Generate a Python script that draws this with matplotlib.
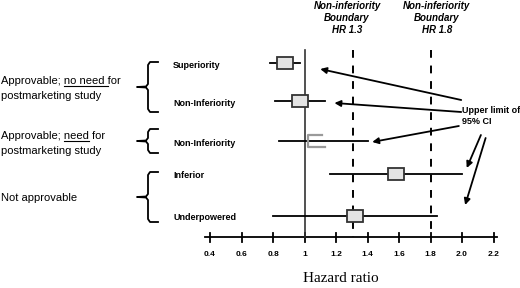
import matplotlib
matplotlib.use('Agg')
import matplotlib.pyplot as plt
from matplotlib.patches import Rectangle

# Data (hazard ratios)
row_labels = ['Superiority', 'Non-Inferiority', 'Non-Inferiority', 'Inferior', 'Underpowered']
hr_point = [0.875, 0.97, 1.07, 1.58, 1.32]
ci_low = [0.78, 0.81, 0.84, 1.16, 0.80]
ci_high = [0.97, 1.13, 1.40, 2.00, 1.84]
boundaries = [1.31, 1.80]
boundary_labels = ['Non-inferiority\nBoundary\nHR 1.3', 'Non-inferiority\nBoundary\nHR 1.8']
tick_values = [0.4, 0.6, 0.8, 1.0, 1.2, 1.4, 1.6, 1.8, 2.0, 2.2]
tick_labels = ['0.4', '0.6', '0.8', '1', '1.2', '1.4', '1.6', '1.8', '2.0', '2.2']

# layout (pixel-ish units, y grows downward)
row_y = [63, 101, 141, 174, 216]
axis_y = 237
top_y = 50

fig = plt.figure(figsize=(5.2, 2.88), dpi=100)
# overlay axes for labels / braces in pixel units
lay = fig.add_axes([0, 0, 1, 1])
lay.set_xlim(0, 520)
lay.set_ylim(288, 0)
lay.axis('off')
# forest plot axes: x in hazard ratio
ax = fig.add_axes([0, 0, 1, 1], facecolor='none')
ax.set_xlim(0.4 - 210 / 157.5, 0.4 + 310 / 157.5)
ax.set_ylim(288, 0)
ax.axis('off')

sans = 'Liberation Sans'

# hazard-ratio axis
ax.plot([0.37, 2.225], [axis_y, axis_y], color='black', lw=1.3)
for v, lab in zip(tick_values, tick_labels):
    ax.plot([v, v], [axis_y - 4.5, axis_y + 4.5], color='black', lw=1.3)
    ax.text(v, axis_y + 18, lab, ha='center', va='center', fontsize=6,
            fontweight='bold', family=sans)
ax.text(1.232, 279, 'Hazard ratio', ha='center', va='center',
        fontsize=11, family='Liberation Serif')

# line of no effect and boundaries
ax.plot([1.0, 1.0], [top_y, axis_y], color='#333333', lw=1.2)
for b, lab in zip(boundaries, boundary_labels):
    ax.plot([b, b], [top_y, axis_y], color='black', lw=1.4, ls=(0, (4, 4)))
    ax.text(b - 0.04 if b < 1.5 else b + 0.04, 18, lab, ha='center', va='center',
            fontsize=7, fontweight='bold', fontstyle='italic', family=sans,
            linespacing=1.3)

# estimates
bw, bh = 0.1, 12
for i, y in enumerate(row_y):
    ax.plot([ci_low[i], ci_high[i]], [y, y], color='black', lw=1.3, zorder=2)
    x0, x1 = hr_point[i] - bw / 2, hr_point[i] + bw / 2
    if i == 2:
        # faint, partly drawn box
        ax.plot([x1 - 0.01, x0, x0, x1 + 0.01], [y - bh / 2, y - bh / 2, y + bh / 2, y + bh / 2],
                color='#9a9a9a', lw=1.6, zorder=3)
    else:
        ax.add_patch(Rectangle((x0, y - bh / 2), bw, bh,
                               facecolor='#e4e4e4', edgecolor='#333333', lw=1.3, zorder=3))
    lay.text(173, y + 2, row_labels[i], ha='left', va='center', fontsize=6.5,
             fontweight='bold', family=sans)

# arrows from "Upper limit of 95% CI"
ax.text(2.0, 116, 'Upper limit of\n95% CI', ha='left', va='center', fontsize=6.5,
        fontweight='bold', family=sans, linespacing=1.2)
arrow_tails = [(1.995, 100), (1.995, 112), (1.98, 126), (2.12, 135), (2.15, 138)]
arrow_heads = [(1.1, 69), (1.19, 103), (1.43, 142), (2.03, 168), (2.02, 205)]
for (tx, ty), (hx, hy) in zip(arrow_tails, arrow_heads):
    ax.annotate('', xy=(hx, hy), xytext=(tx, ty),
                arrowprops=dict(arrowstyle='-|>', color='black', lw=1.3,
                                mutation_scale=9, shrinkA=0, shrinkB=0))

# braces
def brace(top, bot):
    mid = (top + bot) / 2
    xs = [158, 150, 148, 148, 146, 137, 146, 148, 148, 150, 158]
    ys = [top, top, top + 3, mid - 3, mid - 0.5, mid, mid + 0.5, mid + 3, bot - 3, bot, bot]
    lay.plot(xs, ys, color='black', lw=1.3, solid_joinstyle='round')

brace(62, 112)
brace(129, 153)
brace(172, 222)

# left-hand group labels with underlined parts
fig.canvas.draw()
renderer = fig.canvas.get_renderer()
inv = lay.transData.inverted()
fs = 8

def text_width(s):
    # width in layout units, trailing spaces counted via a marker character
    t = lay.text(0, 0, s + '|', fontsize=fs, family=sans)
    m = lay.text(0, 0, '|', fontsize=fs, family=sans)
    w = t.get_window_extent(renderer).width - m.get_window_extent(renderer).width
    t.remove()
    m.remove()
    return w * 520 / fig.bbox.width

def label_line(x, y, text, ul_start=None, ul_end=None):
    lay.text(x, y, text, ha='left', va='baseline', fontsize=fs, family=sans)
    if ul_start is not None:
        xa = x + text_width(text[:ul_start])
        xb = x + text_width(text[:ul_end])
        lay.plot([xa, xb], [y + 2.2, y + 2.2], color='black', lw=0.8)

line1 = 'Approvable; no need for'
label_line(1, 84, line1, line1.index('no'), line1.index('for'))
label_line(1, 99, 'postmarketing study')
line2 = 'Approvable; need for'
label_line(1, 139, line2, line2.index('need'), line2.index('need') + 4)
label_line(1, 154, 'postmarketing study')
label_line(1, 201, 'Not approvable')

fig.savefig('out.png', dpi=100)
